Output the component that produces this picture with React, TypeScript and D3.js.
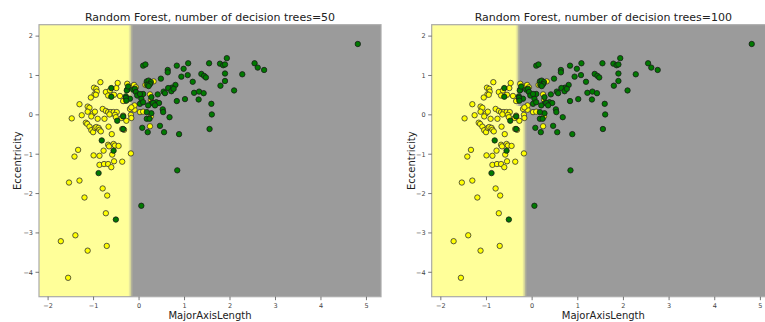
import React from "react";
import * as d3 from "d3";

const W = 765;
const H = 322;

const X_DOMAIN: [number, number] = [-2.2, 5.32];
const Y_DOMAIN: [number, number] = [-4.62, 2.29];

const xTicks = [-2, -1, 0, 1, 2, 3, 4, 5];
const yTicks = [-4, -3, -2, -1, 0, 1, 2];

const titles = [
  "Random Forest, number of decision trees=50",
  "Random Forest, number of decision trees=100",
];
const xLabel = "MajorAxisLength";
const yLabel = "Eccentricity";

// decision boundary: yellow region is x < bx for y in [y0, y1] (top to bottom order)
const boundary50 = [{ y0: -4.62, y1: 2.29, x: -0.2 }];
const boundary100 = [
  { y0: 0.22, y1: 2.29, x: -0.33 },
  { y0: -4.62, y1: 0.22, x: -0.18 },
];

// class 0 (yellow) points [MajorAxisLength, Eccentricity]
const yellowPts: [number, number][] = [
  [-1.48, -0.09], [-1.31, 0.27], [-1.26, -0.01], [-0.85, 0.83], [-0.99, 0.69],
  [-0.94, 0.66], [-0.93, 0.59], [-0.98, 0.52], [-0.95, 0.51], [-1.06, 0.44],
  [-0.73, 0.58], [-0.64, 0.62], [-0.68, 0.49], [-0.5, 0.68], [-0.55, 0.51],
  [-1.13, 0.21], [-1.09, 0.18], [-1.13, 0.08], [-1.01, 0.04], [-0.97, 0.08],
  [-1.05, -0.04], [-0.91, -0.1], [-0.8, 0.15], [-0.73, 0.1], [-0.68, 0.07],
  [-0.62, 0.07], [-0.56, 0.07], [-0.49, 0.07], [-0.76, -0.1], [-0.65, 0.01],
  [-0.53, 0.0], [-0.51, -0.06], [-0.38, -0.08], [-0.35, -0.02], [-1.17, -0.2],
  [-1.14, -0.23], [-1.09, -0.3], [-1.05, -0.39], [-1.01, -0.44], [-0.97, -0.33],
  [-0.94, -0.31], [-0.89, -0.33], [-0.87, -0.38], [-0.84, -0.42], [-0.67, -0.3],
  [-0.6, -0.49], [-0.33, -0.38], [-0.2, 0.15], [-0.18, 0.0], [-0.17, -0.08],
  [-0.1, 0.13], [-0.26, 0.79], [-0.17, 0.72], [-0.11, 0.76], [-0.07, 0.7],
  [-0.31, 0.36], [-0.1, 0.24], [0.02, 0.07], [0.09, 0.08], [0.14, 0.76],
  [0.24, 0.52], [0.32, 0.85], [0.24, -0.29], [0.26, -0.04], [-1.34, -0.89],
  [-1.42, -1.06], [-1.0, -1.03], [-0.87, -1.04], [-0.68, -0.76], [-0.66, -0.8],
  [-0.56, -0.74], [-0.53, -0.78], [-0.45, -0.79], [-0.78, -0.91], [-0.18, -0.98],
  [-0.87, -1.27], [-0.77, -1.25], [-0.68, -1.25], [-0.61, -1.33], [-0.55, -1.18],
  [-0.37, -1.19], [-1.54, -1.72], [-1.31, -1.67], [-0.8, -1.87], [-1.2, -2.1],
  [-0.7, -2.05], [-0.73, -2.5], [-1.72, -3.21], [-1.4, -3.06], [-1.13, -3.45],
  [-0.71, -3.33], [-1.56, -4.14], [-0.59, -1.01], [-0.37, -0.36], [0.26, 0.38],
  [-0.17, 0.19], [-0.28, -0.15], [-0.35, 0.35], [-0.47, 0.81], [-0.42, 0.48],
];

// class 1 (green) points
const greenPts: [number, number][] = [
  [4.81, 1.8], [0.09, 1.25], [0.14, 1.28], [1.93, 1.44], [1.54, 1.31],
  [1.08, 1.31], [0.83, 1.25], [1.78, 1.3], [1.85, 1.26], [1.89, 1.28],
  [2.54, 1.31], [2.61, 1.2], [2.75, 1.14], [0.63, 1.14], [0.63, 1.08],
  [0.98, 1.17], [1.07, 1.01], [0.93, 0.97], [1.37, 1.04], [1.43, 0.99],
  [1.47, 0.95], [1.89, 1.05], [2.27, 1.03], [0.48, 0.92], [1.18, 0.84],
  [1.89, 0.86], [1.79, 0.74], [2.09, 0.62], [0.8, 0.76], [0.72, 0.69],
  [0.64, 0.68], [0.54, 0.59], [0.57, 0.55], [1.21, 0.56], [1.32, 0.59],
  [1.42, 0.55], [1.01, 0.4], [1.31, 0.39], [0.83, 0.35], [0.41, 0.52],
  [0.38, 0.32], [0.44, 0.3], [0.28, 0.3], [1.59, 0.28], [1.6, 0.01],
  [1.55, -0.36], [0.52, 0.14], [0.67, -0.06], [0.46, -0.28], [0.55, -0.44],
  [0.88, -0.49], [0.07, -0.33], [0.19, -0.44], [0.17, -0.1], [0.23, -0.1],
  [0.27, 0.04], [0.17, 0.07], [0.17, 0.85], [0.21, 0.87], [0.26, 0.83],
  [0.24, 0.78], [0.18, 0.76], [0.21, 0.73], [-0.26, 0.64], [-0.29, 0.47],
  [-0.13, 0.64], [-0.09, 0.66], [-0.07, 0.58], [-0.04, 0.49], [0.09, 0.53],
  [0.27, 0.45], [0.05, 0.41], [0.02, 0.28], [0.09, 0.32], [-0.2, 0.41],
  [0.31, 0.3], [0.35, 0.24], [0.2, 0.24], [-0.61, 0.46], [-0.48, -0.15],
  [-0.82, -0.65], [-0.56, -0.91], [-0.35, -0.04], [-0.29, 0.43], [-0.28, 0.36],
  [-0.35, -0.36], [-0.27, 0.62], [-0.24, 0.72], [-0.89, -1.48], [-0.51, -2.66],
  [0.84, -1.41], [0.05, -2.31], [-0.61, 0.68], [0.02, 0.53], [0.71, 0.6],
  [0.76, 0.66], [0.53, 0.07],
];

const panels = [
  { title: titles[0], left: 39, right: 381, boundary: boundary50, yLabelX: 17.5 },
  { title: titles[1], left: 431.7, right: 775, boundary: boundary100, yLabelX: 411 },
];

const TOP = 24.7;
const BOTTOM = 296.7;
const GRAY_BG = "#9b9b9b";
const FONT = "DejaVu Sans, sans-serif";

// blended strips near the boundary: [pixel offset, colour], drawn in order
const blendBands: [number, string][] = [
  [2.5, "#b2b29a"],
  [1.0, "#d8d89a"],
  [-0.5, "#fbfb9c"],
  [-2.0, "#ffff99"],
];

const fmt = (v: number) => (v < 0 ? "\u2212" + Math.abs(v) : String(v));

function Panel({ p, idx }: { p: (typeof panels)[number]; idx: number }) {
  const x = d3.scaleLinear().domain(X_DOMAIN).range([p.left, p.right]);
  const y = d3.scaleLinear().domain(Y_DOMAIN).range([BOTTOM, TOP]);
  const clipId = `clip${idx}`;

  const regionPath = (dx: number) => {
    const pts: [number, number][] = [[p.left - 2, y(p.boundary[0].y1) - 2]];
    p.boundary.forEach((b, i) => {
      const yt = i === 0 ? y(b.y1) - 2 : y(b.y1);
      const yb = i === p.boundary.length - 1 ? y(b.y0) + 2 : y(b.y0);
      pts.push([x(b.x) + dx, yt]);
      pts.push([x(b.x) + dx, yb]);
    });
    pts.push([p.left - 2, y(p.boundary[p.boundary.length - 1].y0) + 2]);
    return (d3.line()(pts) || "") + "Z";
  };

  return (
    <g>
      <defs>
        <clipPath id={clipId}>
          <rect x={p.left} y={TOP} width={p.right - p.left} height={BOTTOM - TOP} />
        </clipPath>
      </defs>
      <g clipPath={`url(#${clipId})`}>
        <rect x={p.left} y={TOP} width={p.right - p.left} height={BOTTOM - TOP} fill={GRAY_BG} />
        {blendBands.map(([dx, c], i) => (
          <path key={i} d={regionPath(dx)} fill={c} />
        ))}
        {yellowPts.map((d, i) => (
          <circle key={"y" + i} cx={x(d[0])} cy={y(d[1])} r={2.7} fill="#ffff00" stroke="#333" strokeWidth={0.8} />
        ))}
        {greenPts.map((d, i) => (
          <circle key={"g" + i} cx={x(d[0])} cy={y(d[1])} r={2.7} fill="#007a00" stroke="#1a1a1a" strokeWidth={0.8} />
        ))}
      </g>
      <rect
        x={p.left}
        y={TOP}
        width={p.right - p.left}
        height={BOTTOM - TOP}
        fill="none"
        stroke="#aaaaaa"
        strokeWidth={1.2}
      />
      {xTicks.map((t) => (
        <g key={"xt" + t}>
          <line x1={x(t)} x2={x(t)} y1={BOTTOM} y2={BOTTOM + 3.5} stroke="#555" strokeWidth={0.8} />
          <text x={x(t)} y={BOTTOM + 11} fontSize={6.5} fontFamily={FONT} fill="#444" textAnchor="middle">
            {fmt(t)}
          </text>
        </g>
      ))}
      {yTicks.map((t) => (
        <g key={"yt" + t}>
          <line x1={p.left - 3.5} x2={p.left} y1={y(t)} y2={y(t)} stroke="#555" strokeWidth={0.8} />
          <text x={p.left - 6} y={y(t) + 2.3} fontSize={6.5} fontFamily={FONT} fill="#444" textAnchor="end">
            {fmt(t)}
          </text>
        </g>
      ))}
      <text x={(p.left + p.right) / 2} y={21} fontSize={11} fontFamily={FONT} fill="#222" textAnchor="middle">
        {p.title}
      </text>
      <text x={(p.left + p.right) / 2} y={318.5} fontSize={10} fontFamily={FONT} fill="#222" textAnchor="middle">
        {xLabel}
      </text>
      <text
        transform={`translate(${p.yLabelX + 3.5},${(TOP + BOTTOM) / 2}) rotate(-90)`}
        fontSize={10}
        fontFamily={FONT}
        fill="#222"
        textAnchor="middle"
      >
        {yLabel}
      </text>
    </g>
  );
}

export default function App() {
  return (
    <svg width={W} height={H} style={{ position: "absolute", left: 0, top: 0, background: "#fff" }}>
      <rect x={0} y={0} width={W} height={H} fill="#fff" />
      {panels.map((p, i) => (
        <Panel key={i} p={p} idx={i} />
      ))}
    </svg>
  );
}
